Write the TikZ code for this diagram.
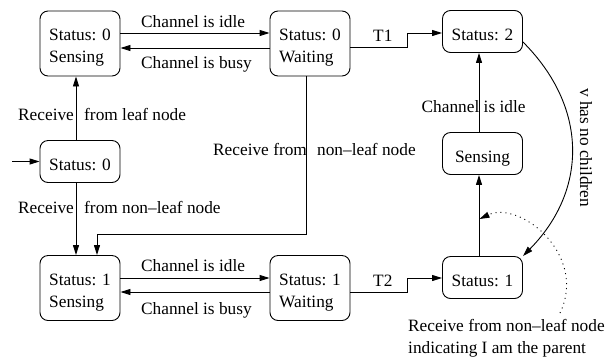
\documentclass[tikz,border=0pt]{standalone}
\usepackage{fontspec}
\setmainfont{Liberation Serif}
\usetikzlibrary{arrows.meta,calc}
\begin{document}
\begin{tikzpicture}[x=1pt,y=-1pt,
  every node/.style={font=\fontsize{17.3}{21.7}\selectfont},
  state/.style={draw, rounded corners=8pt, line width=0.9pt, minimum width=80pt, inner sep=0pt, align=left},
  tall/.style={state, minimum height=65pt, text height=38pt, text depth=0pt},
  short/.style={state, minimum height=42pt, text height=17pt, text depth=0pt},
  arr/.style={line width=0.9pt, -{Triangle[length=10pt,width=6pt]}},
  lab/.style={anchor=base west, inner sep=0pt}]
\useasboundingbox (0,0) rectangle (607,360);

% states
\node[tall]  (A) at (80,43.5)   {Status: 0\\Sensing};
\node[tall]  (B) at (310,43.5)  {Status: 0\\Waiting};
\node[short] (C) at (482.5,31.5) {Status: 2};
\node[short] (D) at (80,161.5)  {Status: 0};
\node[short] (E) at (482.5,153.5) {Sensing};
\node[tall]  (F) at (80,288)    {Status: 1\\Sensing};
\node[tall]  (G) at (310,288)   {Status: 1\\Waiting};
\node[short] (H) at (482.5,277.5) {Status: 1};

% labels
\node[lab] (l1) at (141,27) {Channel is idle};
\node[lab] (l2) at (141,68.5) {Channel is busy};
\node[lab] (l3) at (373,41) {T1};
\node[lab] (l4) at (18,120) {Receive\hspace{6pt} from leaf node};
\node[lab] (l5) at (213,155) {Receive from\hspace{6pt} non--leaf node};
\node[lab] (l6) at (421.5,112) {Channel is idle};
\node[lab] (l7) at (18,213.5) {Receive\hspace{6pt} from non--leaf node};
\node[lab] (l8) at (141,271.5) {Channel is idle};
\node[lab] (l9) at (141,314) {Channel is busy};
\node[lab] (l10) at (373,286) {T2};
\node[lab] (l11) at (408,331) {Receive from non--leaf node};
\node[lab] (l12) at (408,353) {indicating I am the parent};
\node[lab, rotate=-90] (l13) at (580,88) {v has no children};

% connectors
\coordinate (s0) at (12,161.5);
\draw[arr] (s0) -- (D.west);
\draw[arr] ([yshift=10.5pt]A.east) -- ([yshift=10.5pt]B.west);
\draw[arr] ([yshift=-4.5pt]B.west) -- ([yshift=-4.5pt]A.east);
\draw[arr] ([yshift=-3.5pt]B.east) -- ++(57,0) |- ([yshift=-1.5pt]C.west);
\draw[arr] ([xshift=-4pt]D.north) -- ([xshift=-4pt]A.south);
\draw[arr] ([xshift=-4pt]D.south) -- ([xshift=-4pt]F.north);
\draw[arr] ([xshift=-4pt]B.south) -- ++(0,158) -| ([xshift=17pt]F.north);
\draw[arr] ([xshift=-3.5pt]E.north) -- ([xshift=-3.5pt]C.south);
\draw[arr] ([xshift=-3.5pt]H.north) -- ([xshift=-3.5pt]E.south);
\draw[arr] ([yshift=10pt]F.east) -- ([yshift=10pt]G.west);
\draw[arr] ([yshift=-4pt]G.west) -- ([yshift=-4pt]F.east);
\draw[arr] ([yshift=-4pt]G.east) -- ++(57,0) |- ([yshift=-0.5pt]H.west);
\draw[arr] ([yshift=-10.5pt]C.east) .. controls (588,107) and (588,190) .. (H.north east);
\coordinate (dS) at (560,313);
\coordinate (dE) at (479.5,219);
\draw[arr, dash pattern=on 1pt off 4pt] (dS) .. controls (588,255) and (520,200) .. (dE);
\end{tikzpicture}
\end{document}
